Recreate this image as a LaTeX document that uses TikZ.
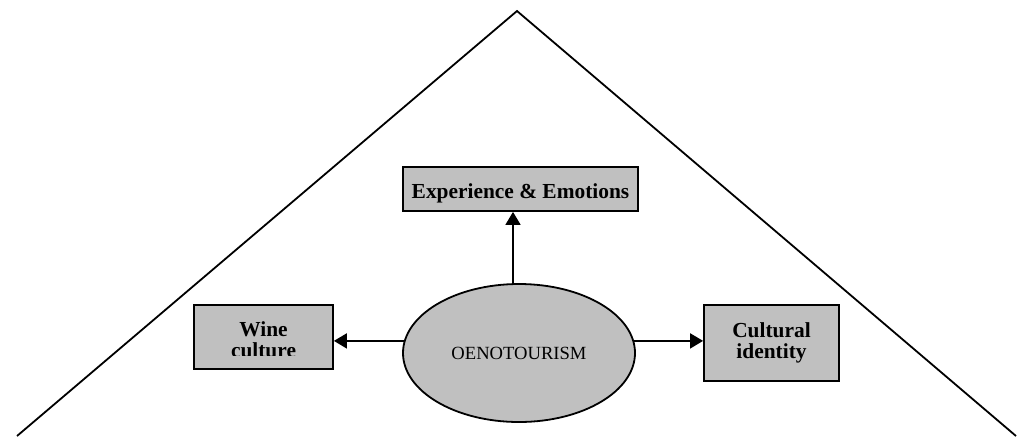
\documentclass[tikz,border=0pt]{standalone}
\usepackage{fontspec}
\setmainfont{Liberation Serif}
\usetikzlibrary{arrows.meta,shapes.geometric}
\definecolor{boxgray}{HTML}{C0C0C0}
\begin{document}
\begin{tikzpicture}[x=0.5pt, y=-0.5pt, >={Triangle[length=6.5pt,width=7.5pt]},
    box/.style={draw, fill=boxgray, line width=0.9pt, inner sep=0pt, align=center,
        font=\bfseries\fontsize{10.7}{10.5}\selectfont}]
    \useasboundingbox (0,0) rectangle (1017,436);

    % Coordinate del tetto
    \coordinate (apex) at (517,11);
    \coordinate (roofleft) at (17,436);
    \coordinate (roofright) at (1016,436);
    \draw[line width=0.9pt] (roofleft) -- (apex) -- (roofright);

    % Nodi
    \node[ellipse, draw, fill=boxgray, line width=0.9pt, minimum width=116pt, minimum height=69pt,
        font=\fontsize{9.3}{10.5}\selectfont] (oeno) at (519,353) {OENOTOURISM};
    \node[box, minimum width=117.5pt, minimum height=22pt, text height=9.5pt, text depth=0pt] (exp)
        at (520.5,189) {Experience \& Emotions};
    \node[box, minimum width=69.5pt, minimum height=32pt] (wine) at (263.5,337) {};
    \node[box, minimum width=67.5pt, minimum height=38pt] (cult) at (771.5,343) {Cultural\\identity};

    % Testo tagliato nel riquadro
    \begin{scope}
        \clip (196,307) rectangle (331,355.8);
        \node[box, draw=none, fill=none] (winetext) at (263.5,339.5) {Wine\\culture};
    \end{scope}

    % Frecce
    \draw[->, line width=0.9pt] ([xshift=-3pt]oeno.north) -- ([xshift=-3pt]oeno.north |- exp.south);
    \draw[->, line width=0.9pt] (oeno.174) -- (oeno.174 -| wine.east);
    \draw[->, line width=0.9pt] (oeno.6) -- (oeno.6 -| cult.west);
\end{tikzpicture}
\end{document}
